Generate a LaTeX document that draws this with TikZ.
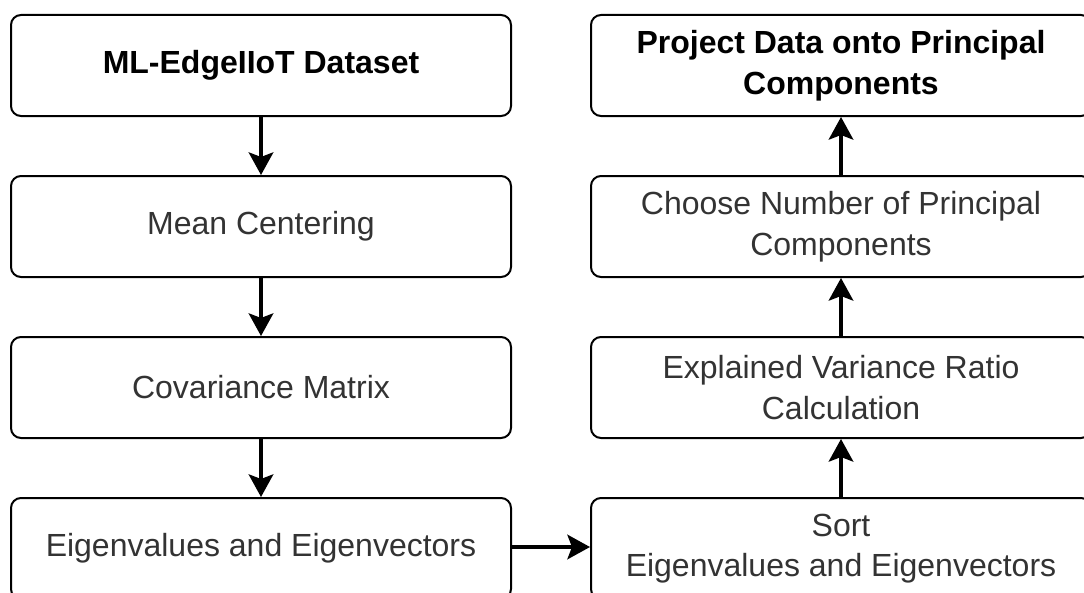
\documentclass[tikz,border=0pt]{standalone}
\usepackage{fontspec}
\setmainfont{Liberation Sans}
\usetikzlibrary{arrows.meta}
\definecolor{txtgray}{HTML}{333333}
\begin{document}
\begin{tikzpicture}[x=0.75pt,y=-0.75pt,
  box/.style={draw=black, line width=1.5pt, rounded corners=7.5pt,
    minimum width=375pt, minimum height=75.75pt, align=center,
    text=txtgray, font=\fontsize{24}{30.5}\selectfont, inner sep=0pt},
  boldbox/.style={box, text=black, font=\fontsize{24}{30.5}\selectfont\bfseries},
  flow/.style={line width=2.3pt, -{Stealth[length=17pt, width=18.5pt, inset=3.5pt]}}
]
\clip (0,0) rectangle (1084,592);
\useasboundingbox (0,0) rectangle (1084,592);
\fill[white] (0,0) rectangle (1084,592);

\node[boldbox] (data) at (261,65.5) {ML-EdgeIIoT Dataset};
\node[box] (mean) at (261,226.5) {Mean Centering};
\node[box] (cov) at (261,387.5) {Covariance Matrix};
\node[box] (eig) at (261,548.5) {Eigenvalues and Eigenvectors};

\node[box] (sort) at (841,548.5) {Sort\\Eigenvalues and Eigenvectors};
\node[box] (evr) at (841,387.5) {Explained Variance Ratio\\Calculation};
\node[box] (choose) at (841,226.5) {Choose Number of Principal\\Components};
\node[boldbox] (proj) at (841,65.5) {Project Data onto Principal\\Components};

\draw[flow] (data) -- (mean);
\draw[flow] (mean) -- (cov);
\draw[flow] (cov) -- (eig);
\draw[flow] (eig.east |- 0,547) -- (sort.west |- 0,547);
\draw[flow] (sort) -- (evr);
\draw[flow] (evr) -- (choose);
\draw[flow] (choose) -- (proj);
\end{tikzpicture}
\end{document}
